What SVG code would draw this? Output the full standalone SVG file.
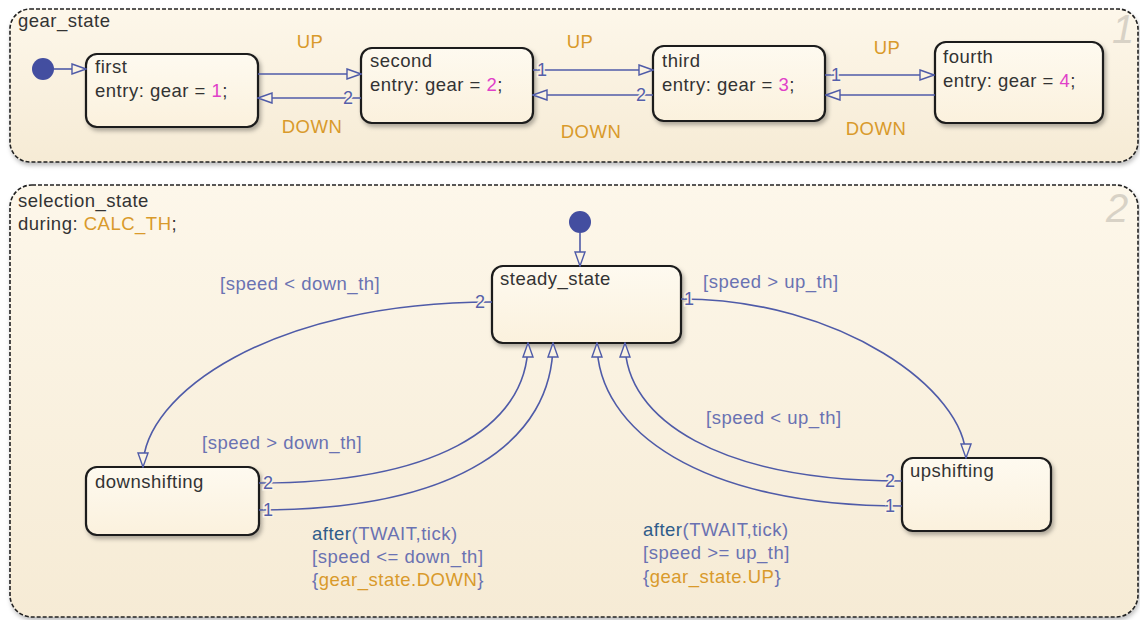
<svg xmlns="http://www.w3.org/2000/svg" width="1140" height="620" viewBox="0 0 1140 620">
<defs>
  <linearGradient id="outerFill" x1="0" y1="0" x2="0" y2="1">
    <stop offset="0" stop-color="#FDF7EA"/>
    <stop offset="1" stop-color="#F6EBD5"/>
  </linearGradient>
  <linearGradient id="stateFill" x1="0" y1="0" x2="0" y2="1">
    <stop offset="0" stop-color="#FEFAF0"/>
    <stop offset="1" stop-color="#FBF1DD"/>
  </linearGradient>
  <filter id="shadow" x="-10%" y="-10%" width="125%" height="130%">
    <feDropShadow dx="2" dy="3" stdDeviation="2" flood-color="#000" flood-opacity="0.3"/>
  </filter>
  <filter id="oshadow" x="-5%" y="-5%" width="110%" height="115%">
    <feDropShadow dx="1" dy="3" stdDeviation="2" flood-color="#000" flood-opacity="0.25"/>
  </filter>
  <marker id="arr" viewBox="0 0 16 12" refX="15" refY="6" markerWidth="16" markerHeight="12" markerUnits="userSpaceOnUse" orient="auto">
    <path d="M1,1 L15,6 L1,11 Z" fill="#FBF3E2" stroke="#4F5BA8" stroke-width="1.4"/>
  </marker>
  <style>
    text { font-family: "Liberation Sans", Arial, sans-serif; font-size: 18.5px; letter-spacing: 0.5px; }
    .outer { fill: url(#outerFill); stroke: #222; stroke-width: 1.6; stroke-dasharray: 4 2; filter: url(#oshadow); }
    .state { fill: url(#stateFill); stroke: #1a1a1a; stroke-width: 2.2; filter: url(#shadow); }
    .name { fill: #333; }
    .num { fill: #E040C8; }
    .ev { fill: #D99A2B; }
    .cond { fill: #6A72B2; }
    .kw { fill: #2F5C8A; }
    .tr { fill: none; stroke: #4F5BA8; stroke-width: 1.6; marker-end: url(#arr); }
    .lbl { fill: #5560AA; font-size: 18px; stroke: #FBF3E2; stroke-width: 3; paint-order: stroke; }
    .dot { fill: #434EA0; }
    .badge { fill: #D8D2C6; font-size: 40px; font-style: italic; letter-spacing: 0; }
  </style>
</defs>

<g id="gear_state">
  <rect class="outer" x="10" y="9" width="1128" height="153" rx="20"/>
  <text class="name" x="18" y="27">gear_state</text>
  <text class="badge" x="1112" y="43">1</text>
</g>

<g id="selection_state">
  <rect class="outer" x="10" y="185" width="1128" height="432" rx="22"/>
  <text class="name" x="18" y="207">selection_state</text>
  <text x="18" y="230"><tspan class="name">during: </tspan><tspan class="ev">CALC_TH</tspan><tspan class="name">;</tspan></text>
  <text class="badge" x="1106" y="222">2</text>
</g>

<g id="gear_init"><circle class="dot" cx="43" cy="69" r="11"/></g>
<g id="sel_init"><circle class="dot" cx="580" cy="222" r="11"/></g>

<g id="first">
  <rect class="state" x="86" y="54" width="172" height="73" rx="11"/>
  <text class="name" x="95" y="73">first</text>
  <text x="95" y="97"><tspan class="name">entry: gear = </tspan><tspan class="num">1</tspan><tspan class="name">;</tspan></text>
</g>
<g id="second">
  <rect class="state" x="361" y="48" width="172" height="75" rx="11"/>
  <text class="name" x="370" y="67">second</text>
  <text x="370" y="91"><tspan class="name">entry: gear = </tspan><tspan class="num">2</tspan><tspan class="name">;</tspan></text>
</g>
<g id="third">
  <rect class="state" x="653" y="46" width="172" height="75" rx="11"/>
  <text class="name" x="662" y="67">third</text>
  <text x="662" y="91"><tspan class="name">entry: gear = </tspan><tspan class="num">3</tspan><tspan class="name">;</tspan></text>
</g>
<g id="fourth">
  <rect class="state" x="935" y="42" width="168" height="81" rx="11"/>
  <text class="name" x="943" y="63">fourth</text>
  <text x="943" y="87"><tspan class="name">entry: gear = </tspan><tspan class="num">4</tspan><tspan class="name">;</tspan></text>
</g>

<g id="steady_state">
  <rect class="state" x="492" y="266" width="189" height="77" rx="11"/>
  <text class="name" x="500" y="285">steady_state</text>
</g>
<g id="downshifting">
  <rect class="state" x="86" y="467" width="173" height="68" rx="11"/>
  <text class="name" x="95" y="488">downshifting</text>
</g>
<g id="upshifting">
  <rect class="state" x="902" y="458" width="149" height="73" rx="11"/>
  <text class="name" x="910" y="477">upshifting</text>
</g>

<g id="connectors">
  <path class="tr" d="M54,69 L86,69"/>
  <path class="tr" d="M258,74 L361,74"/>
  <path class="tr" d="M361,98 L258,98"/>
  <path class="tr" d="M533,70 L653,70"/>
  <path class="tr" d="M653,95 L533,95"/>
  <path class="tr" d="M825,75 L934,75"/>
  <path class="tr" d="M935,95 L826,95"/>
  <text class="lbl" x="343" y="104">2</text>
  <text class="lbl" x="537" y="76">1</text>
  <text class="lbl" x="636" y="101">2</text>
  <text class="lbl" x="831" y="81">1</text>
  <text class="ev" x="310" y="48" text-anchor="middle">UP</text>
  <text class="ev" x="312" y="133" text-anchor="middle">DOWN</text>
  <text class="ev" x="580" y="48" text-anchor="middle">UP</text>
  <text class="ev" x="591" y="138" text-anchor="middle">DOWN</text>
  <text class="ev" x="887" y="54" text-anchor="middle">UP</text>
  <text class="ev" x="876" y="135" text-anchor="middle">DOWN</text>

  <path class="tr" d="M580,233 L580,266"/>
  <path class="tr" d="M492,302 C270,302 143,395 143,467"/>
  <path class="tr" d="M681,299 C840,299 966,390 966,458"/>
  <path class="tr" d="M259,483 C430,483 528,430 528,343"/>
  <path class="tr" d="M259,510 C460,510 553,440 553,343"/>
  <path class="tr" d="M902,481 C720,481 625,420 625,343"/>
  <path class="tr" d="M902,506 C700,506 597,430 597,343"/>
  <text class="lbl" x="475" y="308">2</text>
  <text class="lbl" x="684" y="305">1</text>
  <text class="lbl" x="263" y="489">2</text>
  <text class="lbl" x="263" y="516">1</text>
  <text class="lbl" x="885" y="487">2</text>
  <text class="lbl" x="885" y="512">1</text>

  <text class="cond" x="220" y="290">[speed &lt; down_th]</text>
  <text class="cond" x="703" y="288">[speed &gt; up_th]</text>
  <text class="cond" x="202" y="449">[speed &gt; down_th]</text>
  <text class="cond" x="706" y="424">[speed &lt; up_th]</text>

  <text x="312" y="540"><tspan class="kw">after</tspan><tspan class="cond">(TWAIT,tick)</tspan></text>
  <text class="cond" x="312" y="563">[speed &lt;= down_th]</text>
  <text x="312" y="586"><tspan class="cond">{</tspan><tspan class="ev">gear_state.DOWN</tspan><tspan class="cond">}</tspan></text>

  <text x="643" y="536"><tspan class="kw">after</tspan><tspan class="cond">(TWAIT,tick)</tspan></text>
  <text class="cond" x="643" y="559">[speed &gt;= up_th]</text>
  <text x="643" y="583"><tspan class="cond">{</tspan><tspan class="ev">gear_state.UP</tspan><tspan class="cond">}</tspan></text>
</g>
</svg>
